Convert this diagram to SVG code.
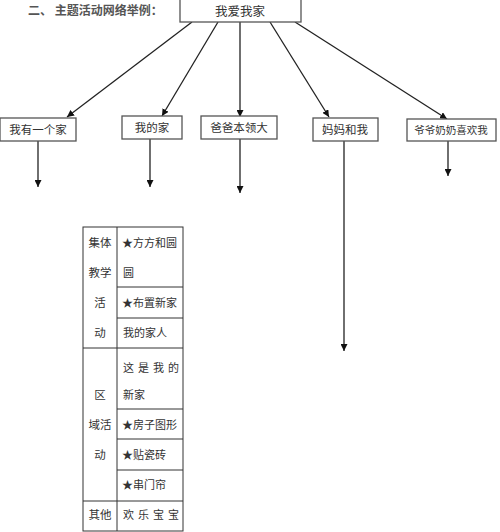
<svg xmlns="http://www.w3.org/2000/svg" width="500" height="532" viewBox="0 0 500 532">
<defs>
<marker id="ah" viewBox="0 0 10 10" refX="10" refY="5" markerWidth="7" markerHeight="7" markerUnits="userSpaceOnUse" orient="auto">
<path d="M0,0 L10,5 L0,10 z" fill="#111"/>
</marker>
<style>
.box{fill:#fff;stroke:#555;stroke-width:1.3}
.t{font-family:"Noto Sans CJK SC","Noto Sans",sans-serif;font-size:11.5px;fill:#333}
.c{text-anchor:middle}
.ln{stroke:#222;stroke-width:1.3;fill:none;marker-end:url(#ah)}
.tb{stroke:#333;stroke-width:1;fill:none}
.r{font-size:11px}
</style>
</defs>
<rect width="500" height="532" fill="#fff"/>
<text x="28" y="15" font-family="'Noto Sans CJK SC',sans-serif" font-size="12" font-weight="bold" fill="#555">二、 主题活动网络举例：</text>
<g id="connectors">
<line class="ln" x1="192" y1="22" x2="67" y2="117"/>
<line class="ln" x1="218" y1="22" x2="162" y2="116"/>
<line class="ln" x1="240" y1="22" x2="240" y2="117"/>
<line class="ln" x1="270" y1="22" x2="329" y2="117"/>
<line class="ln" x1="295" y1="22" x2="447" y2="119"/>
<line class="ln" x1="38" y1="141" x2="38" y2="187"/>
<line class="ln" x1="150" y1="139" x2="150" y2="187"/>
<line class="ln" x1="240" y1="139" x2="240" y2="193"/>
<line class="ln" x1="344" y1="141" x2="344" y2="351"/>
<line class="ln" x1="448" y1="141" x2="448" y2="176"/>
</g>
<g id="n0"><rect class="box" x="180" y="-2" width="121" height="24"/><text class="t c" x="240" y="16" style="font-size:12.5px">我爱我家</text></g>
<g id="n1"><rect class="box" x="0" y="118" width="76" height="23"/><text class="t c" x="38" y="134">我有一个家</text></g>
<g id="n2"><rect class="box" x="122" y="116" width="60" height="23"/><text class="t c" x="152" y="132">我的家</text></g>
<g id="n3"><rect class="box" x="201" y="116" width="76" height="23"/><text class="t c" x="239" y="132">爸爸本领大</text></g>
<g id="n4"><rect class="box" x="313" y="118" width="65" height="23"/><text class="t c" x="345" y="134">妈妈和我</text></g>
<g id="n5"><rect class="box" x="407" y="119" width="89" height="22"/><text class="t c" x="451" y="134" style="font-size:10.5px">爷爷奶奶喜欢我</text></g>
<g id="table">
<rect class="tb" x="83" y="227" width="100" height="304"/>
<line class="tb" x1="117" y1="227" x2="117" y2="531"/>
<line class="tb" x1="117" y1="287" x2="183" y2="287"/>
<line class="tb" x1="117" y1="318" x2="183" y2="318"/>
<line class="tb" x1="83" y1="348" x2="183" y2="348"/>
<line class="tb" x1="117" y1="409" x2="183" y2="409"/>
<line class="tb" x1="117" y1="439" x2="183" y2="439"/>
<line class="tb" x1="117" y1="470" x2="183" y2="470"/>
<line class="tb" x1="83" y1="501" x2="183" y2="501"/>
<text class="t c" x="100" y="247">集体</text>
<text class="t c" x="100" y="277">教学</text>
<text class="t c" x="100" y="307">活</text>
<text class="t c" x="100" y="337">动</text>
<text class="t c" x="100" y="399">区</text>
<text class="t c" x="100" y="429">域活</text>
<text class="t c" x="100" y="459">动</text>
<text class="t c" x="100" y="519">其他</text>
<text class="t r" x="122" y="247">★方方和圆</text>
<text class="t r" x="123" y="277">圆</text>
<text class="t r" x="122" y="307">★布置新家</text>
<text class="t r" x="123" y="337">我的家人</text>
<text class="t r" x="123" y="372" textLength="56">这是我的</text>
<text class="t r" x="123" y="399">新家</text>
<text class="t r" x="122" y="429">★房子图形</text>
<text class="t r" x="122" y="459">★贴瓷砖</text>
<text class="t r" x="122" y="489">★串门帘</text>
<text class="t r" x="123" y="519" textLength="56">欢乐宝宝</text>
</g>
</svg>
